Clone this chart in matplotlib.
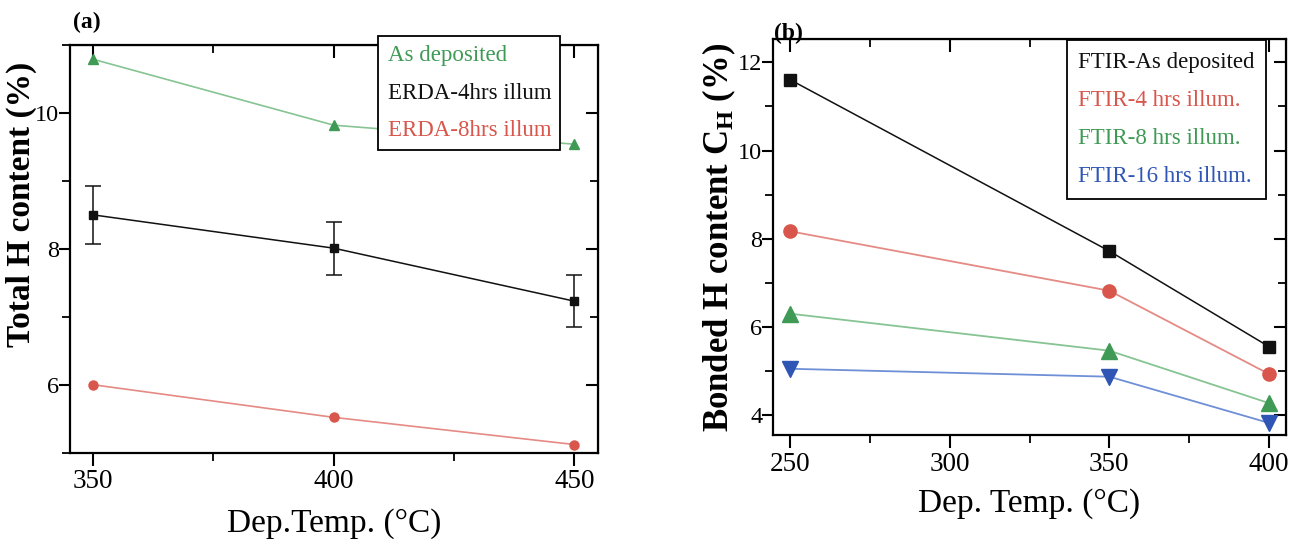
import matplotlib
matplotlib.use("Agg")
import matplotlib.pyplot as plt
from matplotlib.lines import Line2D
from matplotlib.ticker import MultipleLocator

plt.rcParams['font.family'] = ['Liberation Serif', 'DejaVu Serif']
plt.rcParams['mathtext.fontset'] = 'custom'
plt.rcParams['mathtext.rm'] = 'Liberation Serif'
plt.rcParams['mathtext.bf'] = 'Liberation Serif:bold'
plt.rcParams['mathtext.it'] = 'Liberation Serif:italic'

# ---------------- data: panel (a) ----------------
temp_a = [350, 400, 450]
as_dep_a = [10.79, 9.82, 9.54]
erda4 = [8.50, 8.01, 7.23]
erda4_err = [0.43, 0.39, 0.38]
erda8 = [6.00, 5.52, 5.12]
labels_a = ["As deposited", "ERDA-4hrs illum", "ERDA-8hrs illum"]

# ---------------- data: panel (b) ----------------
temp_b = [250, 350, 400]
ftir_dep = [11.61, 7.72, 5.55]
ftir4 = [8.17, 6.82, 4.93]
ftir8 = [6.30, 5.46, 4.27]
ftir16 = [5.05, 4.87, 3.82]
labels_b = ["FTIR-As deposited", "FTIR-4 hrs illum.", "FTIR-8 hrs illum.", "FTIR-16 hrs illum."]

GREEN = '#3f9a55'
RED = '#d8564c'
BLUE = '#2f55b5'
BLACK = '#111111'
GREEN_L = '#86c493'
RED_L = '#e58a84'
BLUE_L = '#6f8fd6'

fig = plt.figure(figsize=(12.94, 5.46), dpi=100)
axA = fig.add_axes([0.0541, 0.1709, 0.4083, 0.7467])
axB = fig.add_axes([0.5976, 0.2027, 0.3960, 0.7258])


def style_axes(ax, xmaj, xmin, ymaj, ymin):
    ax.xaxis.set_major_locator(MultipleLocator(xmaj))
    ax.xaxis.set_minor_locator(MultipleLocator(xmin))
    ax.yaxis.set_major_locator(MultipleLocator(ymaj))
    ax.yaxis.set_minor_locator(MultipleLocator(ymin))
    ax.tick_params(which='major', direction='out', width=1.5,
                   top=False, right=False)
    ax.tick_params(axis='x', which='major', length=9, labelsize=19.5, pad=3)
    ax.tick_params(axis='y', which='major', length=8, labelsize=17.5, pad=0)
    ax.tick_params(which='minor', direction='out', length=6, width=1.3,
                   top=False, right=False)
    for s in ax.spines.values():
        s.set_linewidth(1.6)
    sx = ax.secondary_xaxis('top')
    sx.xaxis.set_major_locator(MultipleLocator(xmaj))
    sx.xaxis.set_minor_locator(MultipleLocator(xmin))
    sx.tick_params(which='major', direction='in', length=9, width=1.5, labeltop=False)
    sx.tick_params(which='minor', direction='in', length=6, width=1.3)
    sy = ax.secondary_yaxis('right')
    sy.yaxis.set_major_locator(MultipleLocator(ymaj))
    sy.yaxis.set_minor_locator(MultipleLocator(ymin))
    sy.tick_params(which='major', direction='in', length=9, width=1.5, labelright=False)
    sy.tick_params(which='minor', direction='in', length=6, width=1.3)


# ---------------- panel (a) ----------------
axA.plot(temp_a, as_dep_a, color=GREEN_L, lw=1.2, zorder=2)
axA.plot(temp_a, as_dep_a, linestyle='none', marker='^', ms=7.5, color=GREEN, zorder=3)
axA.errorbar(temp_a, erda4, yerr=erda4_err, color=BLACK, lw=1.1, marker='s', ms=6,
             capsize=5.5, elinewidth=1.1, capthick=1.1, zorder=3)
axA.plot(temp_a, erda8, color=RED_L, lw=1.2, zorder=2)
axA.plot(temp_a, erda8, linestyle='none', marker='o', ms=6.5, color=RED, zorder=3)
axA.set_xlim(345.2, 455)
axA.set_ylim(5, 11)
style_axes(axA, 50, 25, 2, 1)
axA.set_xlabel("Dep.Temp. (°C)", fontsize=24, labelpad=10)
axA.set_ylabel("Total H content (%)", fontsize=24, fontweight='bold')
axA.yaxis.set_label_coords(-0.0625, 0.61)
fig.text(0.0565, 0.958, "(a)", fontsize=17, fontweight='bold', ha='left', va='center')

hA = [Line2D([], [], linestyle='none') for _ in labels_a]
legA = axA.legend(hA, labels_a, loc='upper left', bbox_to_anchor=(0.2924, 0.934),
                  bbox_transform=fig.transFigure, handlelength=0, handletextpad=0,
                  labelcolor=[GREEN, BLACK, RED], fancybox=False, framealpha=1,
                  edgecolor='black', borderpad=0.4, labelspacing=0.72,
                  borderaxespad=0, prop={'family': 'Liberation Serif', 'size': 16.5})
legA.get_frame().set_linewidth(1.3)
legA.set_zorder(5)

# ---------------- panel (b) ----------------
axB.plot(temp_b, ftir_dep, color=BLACK, lw=1.1, marker='s', ms=8.5, zorder=3)
axB.plot(temp_b, ftir4, color=RED_L, lw=1.3, zorder=2)
axB.plot(temp_b, ftir4, linestyle='none', marker='o', ms=9.5, color=RED, zorder=3)
axB.plot(temp_b, ftir8, color=GREEN_L, lw=1.3, zorder=2)
axB.plot(temp_b, ftir8, linestyle='none', marker='^', ms=11, color=GREEN, zorder=3)
axB.plot(temp_b, ftir16, color=BLUE_L, lw=1.3, zorder=2)
axB.plot(temp_b, ftir16, linestyle='none', marker='v', ms=11, color=BLUE, zorder=3)
axB.set_xlim(244.8, 405.2)
axB.set_ylim(3.54, 12.53)
style_axes(axB, 50, 25, 2, 1)
axB.set_xlabel("Dep. Temp. (°C)", fontsize=24, labelpad=8)
axB.set_ylabel("Bonded H content C$_{\\mathbf{H}}$ (%)", fontsize=25, fontweight='bold')
axB.yaxis.set_label_coords(-0.069, 0.5)
fig.text(0.5985, 0.938, "(b)", fontsize=17, fontweight='bold', ha='left', va='center')

hB = [Line2D([], [], linestyle='none') for _ in labels_b]
legB = axB.legend(hB, labels_b, loc='upper left', bbox_to_anchor=(0.8243, 0.9267),
                  bbox_transform=fig.transFigure, handlelength=0, handletextpad=0,
                  labelcolor=[BLACK, RED, GREEN, BLUE], fancybox=False, framealpha=1,
                  edgecolor='black', borderpad=0.5, labelspacing=0.75,
                  borderaxespad=0, prop={'family': 'Liberation Serif', 'size': 16.5})
legB.get_frame().set_linewidth(1.3)
legB.set_zorder(5)

fig.savefig("out.png", dpi=100)
